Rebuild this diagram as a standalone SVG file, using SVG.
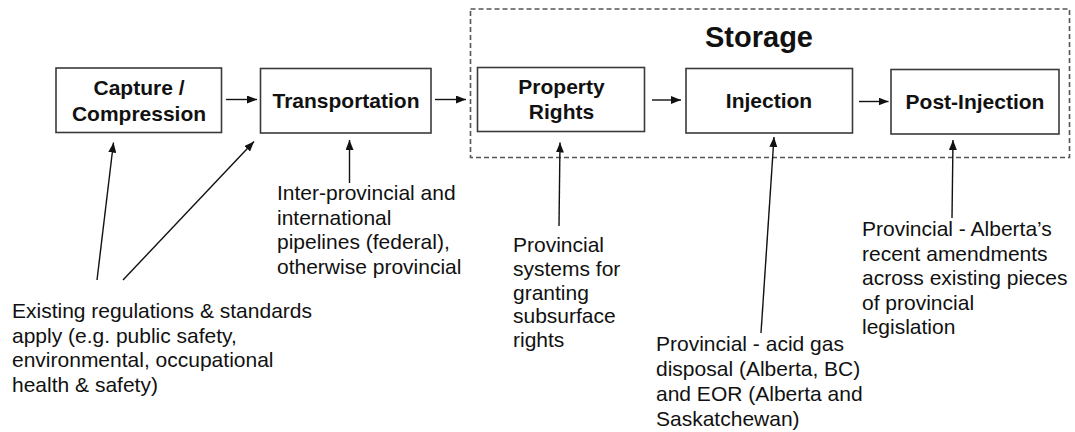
<svg xmlns="http://www.w3.org/2000/svg" width="1075" height="432" viewBox="0 0 1075 432">
  <defs>
    <style>
      .box { fill: #ffffff; stroke: #3a3a3a; stroke-width: 1.6; }
      .dash { fill: none; stroke: #555555; stroke-width: 1.6; stroke-dasharray: 5 3; }
      .lbl { font-family: "Liberation Sans", Arial, sans-serif; font-weight: bold; font-size: 21px; fill: #111111; text-anchor: middle; }
      .title { font-family: "Liberation Sans", Arial, sans-serif; font-weight: bold; font-size: 29px; fill: #111111; text-anchor: middle; }
      .note { font-family: "Liberation Sans", Arial, sans-serif; font-size: 21px; fill: #111111; }
      .conn { stroke: #111111; stroke-width: 1.4; fill: none; marker-end: url(#arr); }
    </style>
    <marker id="arr" markerUnits="userSpaceOnUse" markerWidth="11" markerHeight="8" refX="10" refY="4" orient="auto">
      <path d="M0,0 L10,4 L0,8 z" fill="#111111"/>
    </marker>
  </defs>
  <rect width="1075" height="432" fill="#ffffff"/>

  <g id="storage">
    <rect class="dash" x="470.5" y="9" width="599" height="148.5"/>
    <text class="title" x="759" y="46.5">Storage</text>
  </g>

  <g id="capture">
    <rect class="box" x="56" y="68" width="165.5" height="64.5"/>
    <text class="lbl" x="139" y="95">Capture /</text>
    <text class="lbl" x="139" y="121">Compression</text>
  </g>

  <g id="transportation">
    <rect class="box" x="260.5" y="68.5" width="170.5" height="64.5"/>
    <text class="lbl" x="346" y="108">Transportation</text>
  </g>

  <g id="property-rights">
    <rect class="box" x="477.5" y="67.5" width="167" height="64"/>
    <text class="lbl" x="561.5" y="93.5">Property</text>
    <text class="lbl" x="561.5" y="119">Rights</text>
  </g>

  <g id="injection">
    <rect class="box" x="686" y="68.5" width="166.5" height="64.5"/>
    <text class="lbl" x="769" y="108">Injection</text>
  </g>

  <g id="post-injection">
    <rect class="box" x="891" y="69.5" width="168" height="64.5"/>
    <text class="lbl" x="975" y="109">Post-Injection</text>
  </g>

  <g id="note-existing">
    <text class="note" x="12" y="318">Existing regulations &amp; standards</text>
    <text class="note" x="12" y="342.5">apply (e.g. public safety,</text>
    <text class="note" x="12" y="367">environmental, occupational</text>
    <text class="note" x="12" y="391.5">health &amp; safety)</text>
  </g>

  <g id="note-transport">
    <text class="note" x="277" y="200">Inter-provincial and</text>
    <text class="note" x="277" y="224.5">international</text>
    <text class="note" x="277" y="249">pipelines (federal),</text>
    <text class="note" x="277" y="273.5">otherwise provincial</text>
  </g>

  <g id="note-property">
    <text class="note" x="513" y="252">Provincial</text>
    <text class="note" x="513" y="275.75">systems for</text>
    <text class="note" x="513" y="299.5">granting</text>
    <text class="note" x="513" y="323.25">subsurface</text>
    <text class="note" x="513" y="347">rights</text>
  </g>

  <g id="note-injection">
    <text class="note" x="656" y="351">Provincial - acid gas</text>
    <text class="note" x="656" y="376">disposal (Alberta, BC)</text>
    <text class="note" x="656" y="401">and EOR (Alberta and</text>
    <text class="note" x="656" y="426">Saskatchewan)</text>
  </g>

  <g id="note-post">
    <text class="note" x="862" y="236">Provincial - Alberta’s</text>
    <text class="note" x="862" y="260.5">recent amendments</text>
    <text class="note" x="862" y="285">across existing pieces</text>
    <text class="note" x="862" y="309.5">of provincial</text>
    <text class="note" x="862" y="334">legislation</text>
  </g>

  <g id="connectors">
    <line class="conn" x1="226" y1="99.5" x2="257" y2="99.5"/>
    <line class="conn" x1="435" y1="99.5" x2="466" y2="99.5"/>
    <line class="conn" x1="652" y1="100" x2="681" y2="100"/>
    <line class="conn" x1="859" y1="101.5" x2="888.5" y2="101.5"/>
    <line class="conn" x1="97" y1="280" x2="113.5" y2="142.5"/>
    <line class="conn" x1="123" y1="280" x2="254" y2="141.5"/>
    <line class="conn" x1="349.5" y1="183" x2="349.5" y2="140"/>
    <line class="conn" x1="559" y1="226" x2="560" y2="142.5"/>
    <line class="conn" x1="761" y1="333" x2="774" y2="137"/>
    <line class="conn" x1="952" y1="218" x2="953" y2="140"/>
  </g>
</svg>
